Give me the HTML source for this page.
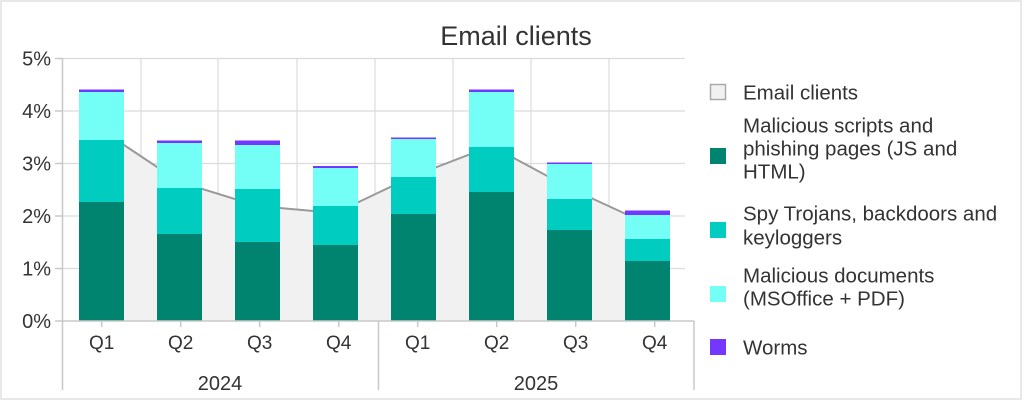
<!DOCTYPE html>
<html><head><meta charset="utf-8"><style>
html,body{margin:0;padding:0;background:#fff;}
svg{display:block;font-family:"Liberation Sans",sans-serif;}
</style></head><body>
<svg width="1024" height="404" viewBox="0 0 1024 404" xmlns="http://www.w3.org/2000/svg">
<rect x="0" y="0" width="1024" height="404" fill="#fff"/>
<rect x="1" y="1" width="1020" height="398" fill="none" stroke="#e0e0e0" stroke-width="1.5"/>
<text x="516" y="45" font-size="27" fill="#333" text-anchor="middle">Email clients</text>
<g stroke="#dcdcdc" stroke-width="1.2">
<line x1="63" y1="58.5" x2="685" y2="58.5"/>
<line x1="63" y1="111" x2="685" y2="111"/>
<line x1="63" y1="163.5" x2="685" y2="163.5"/>
<line x1="63" y1="216" x2="685" y2="216"/>
<line x1="63" y1="268.5" x2="685" y2="268.5"/>
<line x1="141" y1="58" x2="141" y2="321"/>
<line x1="218" y1="58" x2="218" y2="321"/>
<line x1="297" y1="58" x2="297" y2="321"/>
<line x1="375" y1="58" x2="375" y2="321"/>
<line x1="453" y1="58" x2="453" y2="321"/>
<line x1="531" y1="58" x2="531" y2="321"/>
<line x1="609" y1="58" x2="609" y2="321"/>
</g>
<polygon points="101.5,130 179.5,182 257.5,206 335.5,213 413.5,176 491.5,146 569.5,188 647.5,224 647.5,321 101.5,321" fill="#f1f1f1"/>
<polyline points="101.5,130 179.5,182 257.5,206 335.5,213 413.5,176 491.5,146 569.5,188 647.5,224" fill="none" stroke="#999" stroke-width="2"/>
<g>
<rect x="79" y="202" width="45" height="119" fill="#00836f"/>
<rect x="79" y="140" width="45" height="62" fill="#00ccc0"/>
<rect x="79" y="92" width="45" height="48" fill="#73fff5"/>
<rect x="79" y="89.5" width="45" height="2.5" fill="#7337ff"/>

<rect x="157" y="234" width="45" height="87" fill="#00836f"/>
<rect x="157" y="188" width="45" height="46" fill="#00ccc0"/>
<rect x="157" y="143" width="45" height="45" fill="#73fff5"/>
<rect x="157" y="140.5" width="45" height="2.5" fill="#7337ff"/>

<rect x="235" y="242" width="45" height="79" fill="#00836f"/>
<rect x="235" y="189" width="45" height="53" fill="#00ccc0"/>
<rect x="235" y="145" width="45" height="44" fill="#73fff5"/>
<rect x="235" y="140.5" width="45" height="4.5" fill="#7337ff"/>

<rect x="313" y="245" width="45" height="76" fill="#00836f"/>
<rect x="313" y="206" width="45" height="39" fill="#00ccc0"/>
<rect x="313" y="168" width="45" height="38" fill="#73fff5"/>
<rect x="313" y="166" width="45" height="2" fill="#7337ff"/>

<rect x="391" y="214" width="45" height="107" fill="#00836f"/>
<rect x="391" y="177" width="45" height="37" fill="#00ccc0"/>
<rect x="391" y="139" width="45" height="38" fill="#73fff5"/>
<rect x="391" y="137.5" width="45" height="1.5" fill="#7337ff"/>

<rect x="469" y="192" width="45" height="129" fill="#00836f"/>
<rect x="469" y="147" width="45" height="45" fill="#00ccc0"/>
<rect x="469" y="92" width="45" height="55" fill="#73fff5"/>
<rect x="469" y="89.5" width="45" height="2.5" fill="#7337ff"/>

<rect x="547" y="230" width="45" height="91" fill="#00836f"/>
<rect x="547" y="199" width="45" height="31" fill="#00ccc0"/>
<rect x="547" y="164" width="45" height="35" fill="#73fff5"/>
<rect x="547" y="162.5" width="45" height="1.5" fill="#7337ff"/>

<rect x="625" y="261" width="45" height="60" fill="#00836f"/>
<rect x="625" y="239" width="45" height="22" fill="#00ccc0"/>
<rect x="625" y="215" width="45" height="24" fill="#73fff5"/>
<rect x="625" y="210.5" width="45" height="4.5" fill="#7337ff"/>
</g>
<g stroke="#c8c8c8" stroke-width="1.5">
<line x1="62.5" y1="58" x2="62.5" y2="390"/>
<line x1="55" y1="58.5" x2="62.5" y2="58.5"/>
<line x1="55" y1="111" x2="62.5" y2="111"/>
<line x1="55" y1="163.5" x2="62.5" y2="163.5"/>
<line x1="55" y1="216" x2="62.5" y2="216"/>
<line x1="55" y1="268.5" x2="62.5" y2="268.5"/>
<line x1="55" y1="321" x2="694" y2="321"/>
<line x1="378.5" y1="321" x2="378.5" y2="390"/>
<line x1="694" y1="321" x2="694" y2="390"/>
<line x1="101.7" y1="321" x2="101.7" y2="327"/>
<line x1="180.7" y1="321" x2="180.7" y2="327"/>
<line x1="259.7" y1="321" x2="259.7" y2="327"/>
<line x1="338.7" y1="321" x2="338.7" y2="327"/>
<line x1="417.7" y1="321" x2="417.7" y2="327"/>
<line x1="496.7" y1="321" x2="496.7" y2="327"/>
<line x1="575.7" y1="321" x2="575.7" y2="327"/>
<line x1="654.7" y1="321" x2="654.7" y2="327"/>
</g>
<g font-size="20" fill="#333" text-anchor="end">
<text x="51" y="65.5">5%</text>
<text x="51" y="118">4%</text>
<text x="51" y="170.5">3%</text>
<text x="51" y="223">2%</text>
<text x="51" y="275.5">1%</text>
<text x="51" y="328">0%</text>
</g>
<g font-size="19" fill="#333" text-anchor="middle">
<text x="101.7" y="349">Q1</text>
<text x="180.7" y="349">Q2</text>
<text x="259.7" y="349">Q3</text>
<text x="338.7" y="349">Q4</text>
<text x="417.7" y="349">Q1</text>
<text x="496.7" y="349">Q2</text>
<text x="575.7" y="349">Q3</text>
<text x="654.7" y="349">Q4</text>
</g>
<g font-size="20" fill="#333" text-anchor="middle">
<text x="220" y="390">2024</text>
<text x="536" y="390">2025</text>
</g>
<rect x="710.5" y="84.5" width="15" height="15" fill="#f1f1f1" stroke="#aaa" stroke-width="1.5"/>
<rect x="710" y="148" width="16" height="16" fill="#00836f"/>
<rect x="710" y="222" width="16" height="16" fill="#00ccc0"/>
<rect x="710" y="286" width="16" height="16" fill="#73fff5"/>
<rect x="710" y="339" width="16" height="16" fill="#7337ff"/>
<g font-size="20.5" fill="#333">
<text x="743" y="99.5">Email clients</text>
<text x="743" y="132.5">Malicious scripts and</text>
<text x="743" y="155.5">phishing pages (JS and</text>
<text x="743" y="178.5">HTML)</text>
<text x="743" y="220.5">Spy Trojans, backdoors and</text>
<text x="743" y="244.5">keyloggers</text>
<text x="743" y="282.5">Malicious documents</text>
<text x="743" y="305.5">(MSOffice + PDF)</text>
<text x="743" y="354.5">Worms</text>
</g>
</svg>
</body></html>
